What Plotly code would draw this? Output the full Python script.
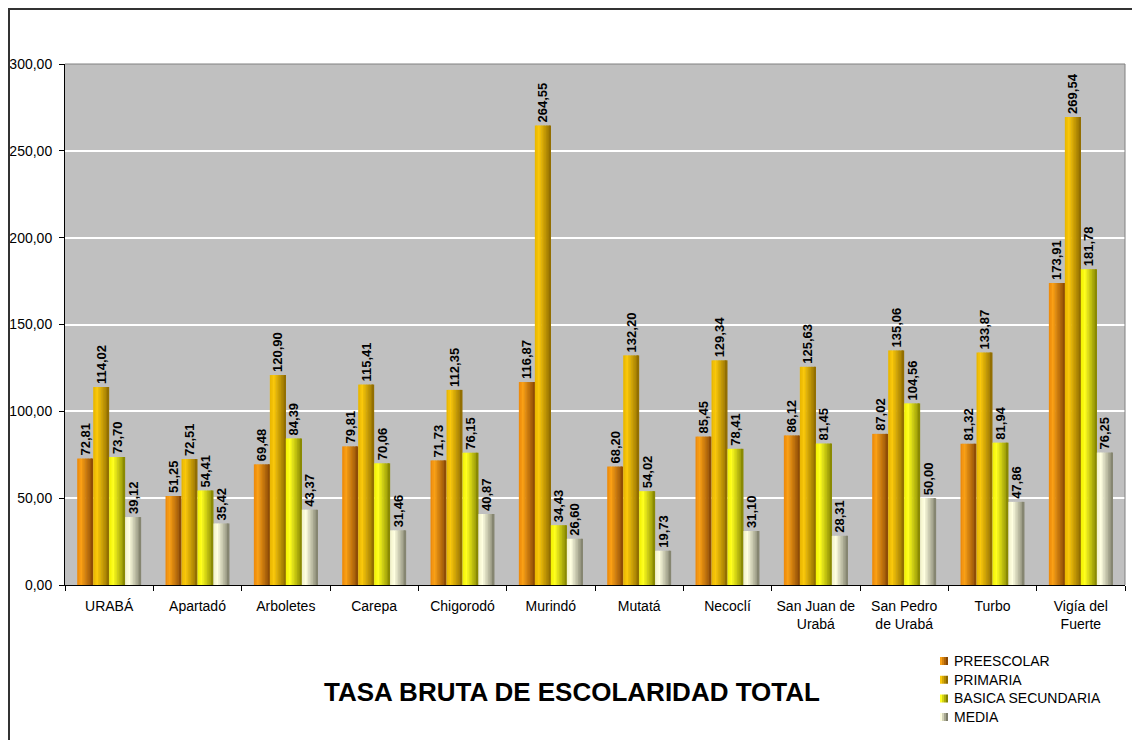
import plotly.graph_objects as go

categories = ["URABÁ", "Apartadó", "Arboletes", "Carepa", "Chigorodó", "Murindó",
              "Mutatá", "Necoclí", "San Juan de<br>Urabá", "San Pedro<br>de Urabá",
              "Turbo", "Vigía del<br>Fuerte"]
series_names = ["PREESCOLAR", "PRIMARIA", "BASICA SECUNDARIA", "MEDIA"]
preescolar = [72.81, 51.25, 69.48, 79.81, 71.73, 116.87, 68.20, 85.45, 86.12, 87.02, 81.32, 173.91]
primaria = [114.02, 72.51, 120.90, 115.41, 112.35, 264.55, 132.20, 129.34, 125.63, 135.06, 133.87, 269.54]
basica = [73.70, 54.41, 84.39, 70.06, 76.15, 34.43, 54.02, 78.41, 81.45, 104.56, 81.94, 181.78]
media = [39.12, 35.42, 43.37, 31.46, 40.87, 26.60, 19.73, 31.10, 28.31, 50.00, 47.86, 76.25]
series_values = [preescolar, primaria, basica, media]

# light (left) and dark (right) colours for the cylinder-like shading
light = [(250, 160, 20), (250, 200, 10), (255, 255, 30), (255, 255, 225)]
dark = [(135, 70, 5), (140, 105, 0), (130, 130, 0), (125, 125, 105)]
base = [(235, 135, 10), (230, 180, 0), (240, 240, 0), (240, 240, 200)]

N = 10
bw = 0.181
start = -2 * bw

W, H = 1132, 732
ML, MR, MT, MB = 57, 15, 56, 155
PW, PH = W - ML - MR, H - MT - MB


def px(x):  # figure pixel -> paper x
    return (x - ML) / PW


def py(y):  # figure pixel -> paper y
    return (MT + PH - y) / PH


def mix(a, b, t):
    return "rgb(%d,%d,%d)" % tuple(round(a[i] + (b[i] - a[i]) * t) for i in range(3))


fig = go.Figure()
for s, (name, vals) in enumerate(zip(series_names, series_values)):
    for k in range(N):
        t = (k + 0.5) / N
        if t < 0.25:
            col = mix(base[s], light[s], t / 0.25)
        else:
            col = mix(light[s], dark[s], (t - 0.25) / 0.75)
        fig.add_trace(go.Bar(
            x=categories, y=vals,
            offset=start + s * bw + k * bw / N,
            width=bw / N * 1.35 if k < N - 1 else bw / N,
            marker=dict(color=col, line=dict(width=0)),
            showlegend=False, hoverinfo="skip",
        ))
    # transparent full-width bar carrying the value label
    fig.add_trace(go.Bar(
        x=categories, y=vals, name=name,
        offset=start + s * bw, width=bw,
        marker=dict(color="rgba(0,0,0,0)", line=dict(width=0)),
        texttemplate="%{y:.2f}",
        textposition="outside", textangle=-90, constraintext="none",
        textfont=dict(family="Liberation Sans", size=13, color="black", weight="bold"),
        cliponaxis=False, showlegend=False,
    ))

# manual legend (small squares + labels)
shapes = [
    dict(type="path", xref="paper", yref="paper",
         path="M 0 1 L 1 1 L 1 0", line=dict(color="#808080", width=1)),
    dict(type="path", xref="paper", yref="paper",
         path="M %f -0.4 L %f %f L 1.03 %f" % (px(1), px(1), py(1), py(1)),
         line=dict(color="#333333", width=2)),
]
annotations = [dict(text="<b>TASA BRUTA DE ESCOLARIDAD TOTAL</b>",
                    xref="paper", yref="paper", x=px(563.5), y=py(684),
                    xanchor="center", yanchor="middle", showarrow=False,
                    font=dict(size=26, family="Liberation Sans"))]
for i, name in enumerate(series_names):
    yc = 653 + 18.7 * i
    for k in range(4):
        shapes.append(dict(type="rect", xref="paper", yref="paper",
                           x0=px(932 + 2 * k), x1=px(934 + 2 * k),
                           y0=py(yc - 4), y1=py(yc + 4), line=dict(width=0),
                           fillcolor=mix(light[i], dark[i], k / 3)))
    annotations.append(dict(text=name, xref="paper", yref="paper",
                            x=px(944), y=py(yc), xanchor="left", yanchor="middle",
                            showarrow=False, font=dict(size=14, family="Liberation Sans")))

fig.update_layout(
    width=W, height=H,
    margin=dict(l=ML, r=MR, t=MT, b=MB),
    barmode="overlay",
    separators=",.",
    showlegend=False,
    paper_bgcolor="white",
    plot_bgcolor="#C0C0C0",
    font=dict(family="Liberation Sans", size=14, color="black"),
    annotations=annotations,
    shapes=shapes,
)
fig.update_yaxes(range=[0, 300], dtick=50, tickformat=".2f",
                 showgrid=True, gridcolor="white", gridwidth=2,
                 showline=True, linecolor="black", linewidth=1,
                 ticks="outside", ticklen=5, tickcolor="black", zeroline=False,
                 tickfont=dict(size=14), automargin=False, ticklabelstandoff=4)
fig.update_xaxes(showline=True, linecolor="black", linewidth=1,
                 ticks="outside", ticklen=5, tickcolor="black",
                 tickson="boundaries", showgrid=False, tickangle=0,
                 tickfont=dict(size=14), automargin=False, ticklabelstandoff=8)

fig.write_html("out.html")
